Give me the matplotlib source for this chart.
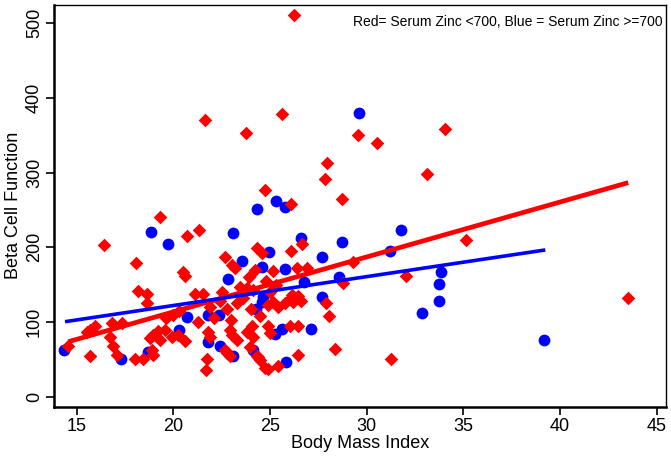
"""Beta cell function vs BMI, split by serum zinc"""

import matplotlib

matplotlib.use("Agg")
import matplotlib.pyplot as plt

# Red = serum zinc < 700
red_bmi = [
    26.25, 21.62, 25.64, 23.76, 27.93, 27.86, 28.74, 24.76, 26.07, 29.54,
    30.55, 34.07, 33.10, 35.14, 43.53, 19.31, 16.43, 18.07, 21.34, 20.69,
    22.69, 24.34, 24.57, 23.02, 23.19, 20.51, 20.60, 24.22, 26.67, 26.10,
    26.38, 26.90, 29.31, 32.03, 28.79, 27.90, 28.07, 28.36, 31.24, 26.46,
    25.40, 24.88, 24.40, 25.17, 18.19, 18.62, 21.12, 21.52, 23.45, 23.83,
    24.14, 26.12, 26.46, 24.91, 25.43, 25.78, 25.17, 24.91, 25.00, 26.03,
    26.46, 18.62, 14.57, 15.69, 15.95, 15.52, 16.81, 17.33, 16.72, 16.86,
    17.07, 15.69, 18.02, 18.41, 18.79, 18.96, 19.22, 18.88, 18.96, 19.31,
    19.57, 19.91, 20.60, 20.26, 21.81, 21.90, 23.02, 23.28, 22.93, 22.67,
    22.93, 21.73, 21.69, 23.83, 24.05, 24.14, 24.31, 24.48, 24.74, 23.97,
    26.20, 26.03, 26.60, 21.90, 22.40, 22.80, 23.30, 23.60, 24.00, 22.10,
    23.00, 24.50, 25.30, 24.80, 20.30, 20.00, 19.60, 21.30, 22.50, 23.90,
    25.00, 22.76,
]
red_beta = [
    511, 370, 379, 353, 313, 292, 264, 277, 258, 350,
    339, 358, 298, 210, 132, 240, 203, 179, 223, 215,
    187, 199, 192, 176, 172, 167, 161, 170, 205, 195,
    172, 172, 180, 162, 152, 125, 108, 64, 51, 56,
    41, 37, 53, 168, 142, 137, 138, 137, 147, 145,
    143, 136, 135, 123, 120, 125, 127, 94, 85, 94,
    95, 126, 68, 89, 95, 87, 99, 99, 80, 68,
    56, 55, 51, 50, 78, 83, 88, 63, 56, 76,
    89, 80, 74, 83, 87, 80, 83, 76, 89, 62,
    54, 50, 36, 87, 94, 80, 54, 49, 38, 67,
    127, 131, 128, 120, 128, 118, 125, 132, 118, 105,
    102, 108, 150, 155, 115, 110, 105, 100, 140, 160,
    140, 58,
]

# Blue = serum zinc >= 700
blue_bmi = [
    29.60, 25.31, 24.31, 25.78, 33.85, 33.74, 33.74, 39.19, 31.79, 28.74,
    26.59, 24.96, 23.53, 27.70, 31.20, 28.58, 25.78, 26.76, 27.70, 27.12,
    25.81, 24.28, 24.65, 25.26, 25.60, 32.85, 18.83, 19.71, 23.07, 24.57,
    22.84, 24.57, 21.81, 22.38, 20.69, 20.31, 21.81, 22.41, 23.07, 24.14,
    17.28, 18.70, 14.36,
]
blue_beta = [
    380, 262, 251, 254, 167, 151, 128, 76, 223, 207,
    212, 193, 181, 187, 195, 160, 171, 154, 133, 91,
    46, 117, 134, 84, 91, 112, 221, 204, 219, 173,
    157, 127, 110, 109, 107, 89, 73, 68, 54, 62,
    50, 60, 62,
]

# fitted lines, ends
red_fit_bmi = [14.57, 43.53]
red_fit_beta = [73.6, 286.5]
blue_fit_bmi = [14.40, 39.24]
blue_fit_beta = [100.4, 196.4]

x_ticks = [15, 20, 25, 30, 35, 40, 45]
y_ticks = [0, 100, 200, 300, 400, 500]

plt.rcParams["font.family"] = ["Liberation Sans", "DejaVu Sans"]

fig = plt.figure(figsize=(6.71, 4.58), dpi=100)
ax = fig.add_axes([0.0805, 0.112, 0.912, 0.878])

ax.scatter(blue_bmi, blue_beta, s=72, marker="o", color="#0000FF", linewidths=0, zorder=2)
ax.scatter(red_bmi, red_beta, s=48, marker="D", color="#FF0000", linewidths=0, zorder=3)
ax.plot(red_fit_bmi, red_fit_beta, color="#FF0000", lw=3.4, zorder=4, solid_capstyle="butt")
ax.plot(blue_fit_bmi, blue_fit_beta, color="#0000FF", lw=2.6, zorder=4, solid_capstyle="butt")

ax.set_xlim(13.83, 45.48)
ax.set_ylim(-13.4, 524.8)
ax.set_xticks(x_ticks)
ax.set_yticks(y_ticks)
ax.set_yticklabels([str(v) for v in y_ticks], rotation=90, va="center")
ax.tick_params(labelsize=13, length=6, width=1.2, pad=2)

for side in ["top", "right"]:
    ax.spines[side].set_linewidth(1.0)
for side in ["bottom", "left"]:
    ax.spines[side].set_linewidth(1.8)

ax.set_xlabel("Body Mass Index", fontsize=13, labelpad=0)
ax.set_ylabel("Beta Cell Function", fontsize=13, labelpad=3)

ax.text(
    0.995, 0.975, "Red= Serum Zinc <700, Blue = Serum Zinc >=700",
    transform=ax.transAxes, ha="right", va="top", fontsize=10,
)

plt.savefig("out.png", dpi=100, facecolor="w")
